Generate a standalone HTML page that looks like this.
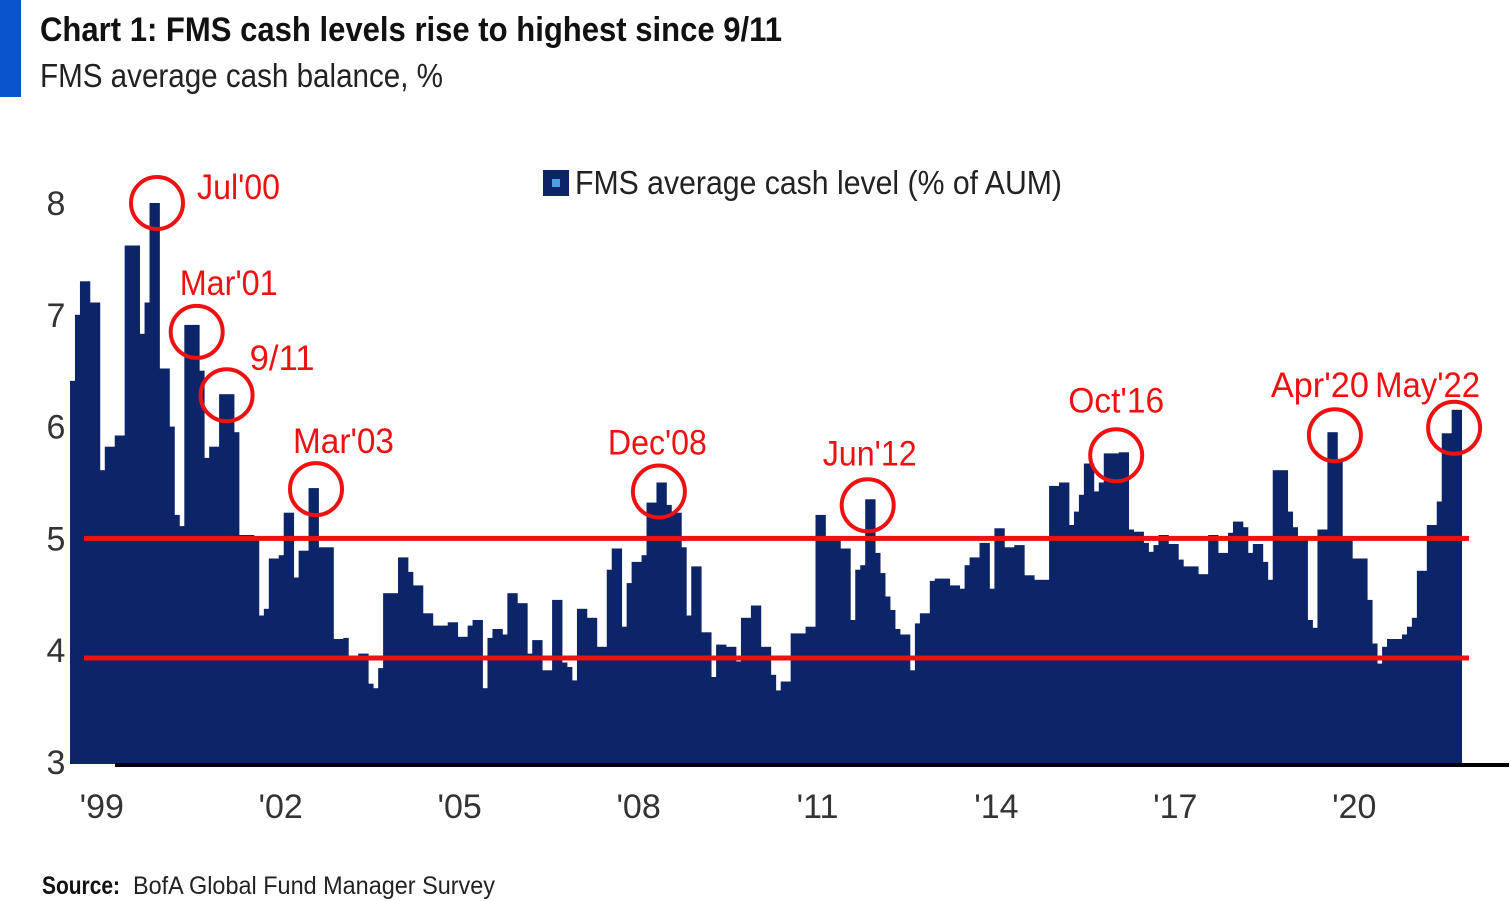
<!DOCTYPE html>
<html><head><meta charset="utf-8"><style>
html,body{margin:0;padding:0;background:#fff;width:1511px;height:901px;overflow:hidden}
svg{display:block}
text{font-family:"Liberation Sans Narrow","Liberation Sans",sans-serif}
</style></head><body>
<svg id="chart" width="1511" height="901" viewBox="0 0 1511 901">
<rect x="0" y="0" width="21" height="97" fill="#0a55cc"/>
<text x="40" y="41" font-size="34" font-weight="bold" fill="#111" textLength="742" lengthAdjust="spacingAndGlyphs">Chart 1: FMS cash levels rise to highest since 9/11</text>
<text x="40" y="87" font-size="33" fill="#222" textLength="403" lengthAdjust="spacingAndGlyphs">FMS average cash balance, %</text>
<g>
<rect x="543" y="170" width="26" height="26" fill="#0c2468"/>
<rect x="552" y="179" width="8" height="8" fill="#4aa0e0"/>
<text x="575" y="194" font-size="33" fill="#222" textLength="487" lengthAdjust="spacingAndGlyphs">FMS average cash level (% of AUM)</text>
</g>
<g id="bars"></g>
<g id="refs"></g>
<rect x="115" y="763" width="1394" height="4" fill="#000"/>
<g id="yticks"></g>
<g id="xticks"></g>
<g id="notes"></g>
<text x="42" y="894" font-size="25" font-weight="bold" fill="#111" textLength="78" lengthAdjust="spacingAndGlyphs">Source:</text>
<text x="133" y="894" font-size="25" fill="#222" textLength="362" lengthAdjust="spacingAndGlyphs">BofA Global Fund Manager Survey</text>
</svg>
<script>
const cashValues = [
6.41,7.0,7.3,7.3,7.11,7.11,5.61,5.82,5.82,5.92,5.92,7.62,7.62,7.62,6.83,7.11,8.0,8.0,6.52,6.52,
6.0,5.21,5.11,6.91,6.91,6.91,6.5,5.72,5.82,5.82,6.29,6.29,6.29,5.95,5.03,5.03,5.03,5.0,4.31,4.37,
4.82,4.82,4.85,5.23,5.23,4.65,4.89,4.89,5.45,5.45,4.92,4.92,4.92,4.10,4.10,4.11,3.95,3.95,3.97,3.97,
3.70,3.66,3.84,4.51,4.51,4.51,4.83,4.83,4.70,4.58,4.58,4.33,4.33,4.22,4.22,4.22,4.25,4.25,4.12,4.12,
4.22,4.27,4.27,3.66,4.11,4.19,4.19,4.14,4.51,4.51,4.42,4.42,3.97,4.09,4.09,3.82,3.82,4.45,4.45,3.89,
3.85,3.73,4.37,4.37,4.29,4.29,4.03,4.03,4.72,4.91,4.91,4.21,4.60,4.79,4.79,4.85,5.32,5.32,5.50,5.50,
5.30,5.23,5.23,4.92,4.31,4.75,4.75,4.16,4.16,3.76,4.05,4.05,4.03,4.03,3.90,4.29,4.29,4.40,4.40,4.03,
4.03,3.78,3.64,3.72,3.72,4.15,4.15,4.15,4.21,4.21,5.21,5.21,5.01,5.01,5.01,4.91,4.91,4.27,4.72,4.76,
5.35,5.35,4.87,4.69,4.48,4.36,4.19,4.14,4.14,3.82,4.24,4.33,4.33,4.62,4.64,4.64,4.64,4.58,4.58,4.55,
4.76,4.83,4.83,4.96,4.96,4.55,5.09,5.09,4.92,4.92,4.94,4.94,4.67,4.67,4.63,4.63,4.63,5.47,5.47,5.50,
5.50,5.12,5.24,5.39,5.67,5.67,5.42,5.50,5.76,5.76,5.76,5.77,5.77,5.08,5.06,5.06,4.96,4.88,4.94,5.03,
5.03,4.95,4.95,4.81,4.75,4.75,4.75,4.68,4.68,5.03,5.03,4.87,4.87,5.05,5.15,5.15,5.10,4.87,4.95,4.95,
4.79,4.63,5.61,5.61,5.61,5.24,5.10,5.01,5.01,4.27,4.20,5.08,5.08,5.95,5.95,5.70,5.01,5.01,4.82,4.82,
4.82,4.45,4.06,3.88,4.03,4.10,4.10,4.10,4.14,4.21,4.29,4.71,4.71,5.12,5.12,5.33,5.94,5.94,6.15,6.15
];
const yTicks = [3,4,5,6,7,8];
const xTickLabels = ["'99","'02","'05","'08","'11","'14","'17","'20"];
const xTickMonths = [6,42,78,114,150,186,222,258];
const refValues = [5.0,3.93];
const noteLabels = ["Jul'00","Mar'01","9/11","Mar'03","Dec'08","Jun'12","Oct'16","Apr'20","May'22"];
const noteMonths = [17,25,31,49,118,160,210,254,278];
const noteValues = [8.0,6.91,6.29,5.45,5.50,5.35,5.77,5.95,6.15];

const NS="http://www.w3.org/2000/svg";
const x0=70, bw=4.97;
function xScale(i){return x0+i*bw;}
function yScale(v){return 762-(v-3)*111.8;}
function mk(tag,attrs,parent){const e=document.createElementNS(NS,tag);for(const k in attrs)e.setAttribute(k,attrs[k]);parent.appendChild(e);return e;}

const bars=document.getElementById('bars');
cashValues.forEach((v,i)=>{
  const r=mk('rect',{x:xScale(i).toFixed(2),y:yScale(v).toFixed(1),width:(bw+0.4).toFixed(2),height:(764-yScale(v)).toFixed(1),fill:'#0c2468'},bars);
  
  
});
const refs=document.getElementById('refs');
refValues.forEach(v=>{
  const r=mk('rect',{x:84,y:(yScale(v)-2.5).toFixed(1),width:1385,height:5,fill:'#ee1111'},refs);
  
  
});
const yt=document.getElementById('yticks');
yTicks.forEach(v=>{
  const t=mk('text',{x:56,y:(yScale(v)+12).toFixed(1),'font-size':34,'text-anchor':'middle',fill:'#333'},yt);
  t.textContent=v;
  
  
});
const xt=document.getElementById('xticks');
xTickLabels.forEach((lab,i)=>{
  const t=mk('text',{x:(xScale(xTickMonths[i])+2).toFixed(1),y:818,'font-size':34,'text-anchor':'middle',fill:'#333'},xt);
  t.textContent=lab;
  
  
});
const notes=document.getElementById('notes');
// style-only: circle vertical nudge, label offset and label width
const circleDy=[0,7,1,1,9,6,3,3,18];
const labelOff=[[40,-4],[-17,-37],[23,-25],[-23,-36],[-51,-37],[-45,-40],[-48,-43],[-64,-38],[-79,-31]];
const labelW=[83,98,65,101,99,94,96,98,105];
noteLabels.forEach((lab,i)=>{
  const cx=xScale(noteMonths[i])+bw/2, cy=yScale(noteValues[i])+circleDy[i];
  const c=mk('circle',{cx:cx.toFixed(1),cy:cy.toFixed(1),r:26,fill:'none',stroke:'#ee1111','stroke-width':4},notes);
  
  
  const t=mk('text',{x:(cx+labelOff[i][0]).toFixed(1),y:(cy+labelOff[i][1]).toFixed(1),'font-size':35,fill:'#ee1111',textLength:labelW[i],lengthAdjust:'spacingAndGlyphs'},notes);
  t.textContent=lab;
  
  
});
</script>
</body></html>
